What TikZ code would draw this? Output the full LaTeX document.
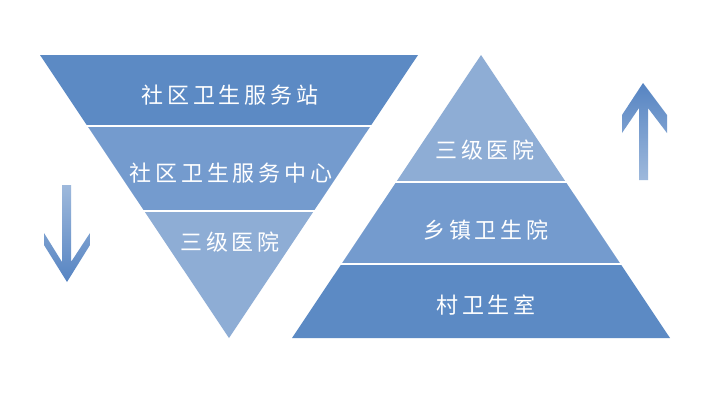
\documentclass[tikz,border=0pt]{standalone}
\usepackage{fontspec}
\usetikzlibrary{calc}
\newfontfamily\cjk[LetterSpace=17]{Noto Sans CJK SC}
\definecolor{bdark}{RGB}{92,138,196}
\definecolor{bmid}{RGB}{116,155,206}
\definecolor{blight}{RGB}{142,173,213}
\definecolor{arrlight}{RGB}{158,185,220}
\definecolor{arrdark}{RGB}{86,132,194}
\begin{document}
\begin{tikzpicture}[x=1pt,y=-1pt,
  lbl/.style={text=white,font=\cjk\fontsize{22}{26}\selectfont,inner sep=0pt},
  gapline/.style={white,line width=2.2pt}]
\useasboundingbox (0,0) rectangle (720,400);
\fill[white] (0,0) rectangle (720,400);
% inverted triangle
\coordinate (TL) at (40,55);
\coordinate (TR) at (418,55);
\coordinate (IA) at (229,338);
\coordinate (L1) at ($(TL)!0.251!(IA)$);
\coordinate (R1) at ($(TR)!0.251!(IA)$);
\coordinate (L2) at ($(TL)!0.551!(IA)$);
\coordinate (R2) at ($(TR)!0.551!(IA)$);
\fill[bdark] (TL) -- (TR) -- (R1) -- (L1) -- cycle;
\fill[bmid] (L1) -- (R1) -- (R2) -- (L2) -- cycle;
\fill[blight] (L2) -- (R2) -- (IA) -- cycle;
\draw[gapline] ($(L1)+(-3,0)$) -- ($(R1)+(3,0)$);
\draw[gapline] ($(L2)+(-3,0)$) -- ($(R2)+(3,0)$);
% upright triangle
\coordinate (UA) at (481,55);
\coordinate (BL) at (292,338);
\coordinate (BR) at (670,338);
\coordinate (P1) at ($(UA)!0.449!(BL)$);
\coordinate (Q1) at ($(UA)!0.449!(BR)$);
\coordinate (P2) at ($(UA)!0.739!(BL)$);
\coordinate (Q2) at ($(UA)!0.739!(BR)$);
\fill[blight] (UA) -- (Q1) -- (P1) -- cycle;
\fill[bmid] (P1) -- (Q1) -- (Q2) -- (P2) -- cycle;
\fill[bdark] (P2) -- (Q2) -- (BR) -- (BL) -- cycle;
\draw[gapline] ($(P1)+(-3,0)$) -- ($(Q1)+(3,0)$);
\draw[gapline] ($(P2)+(-3,0)$) -- ($(Q2)+(3,0)$);
% labels
\node[lbl] (a1) at (230,95) {社区卫生服务站};
\node[lbl] (a2) at (231,173) {社区卫生服务中心};
\node[lbl] (a3) at (230,242) {三级医院};
\node[lbl] (b1) at (485,150) {三级医院};
\node[lbl] (b2) at (486,230) {乡镇卫生院};
\node[lbl] (b3) at (486,305) {村卫生室};
% down arrow
\shade[top color=arrlight,bottom color=arrdark]
  (62,185) -- (71,185) -- (71,262) -- (90,233) -- (90,245) -- (67,282)
  -- (44,245) -- (44,233) -- (62,262) -- cycle;
% up arrow
\shade[top color=arrdark,bottom color=arrlight]
  (643,83) -- (667,115) -- (667,133) -- (648,108) -- (648,180) -- (639,180)
  -- (639,108) -- (622,133) -- (622,115) -- cycle;
\end{tikzpicture}
\end{document}
